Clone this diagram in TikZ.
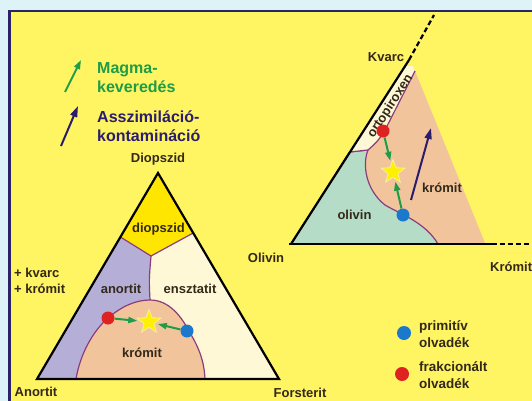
\documentclass[tikz,border=0pt]{standalone}
\usepackage{fontspec}
\setmainfont{Liberation Sans}
\usetikzlibrary{arrows.meta,shapes.geometric}
\definecolor{skyback}{HTML}{DDF3F8}
\definecolor{frameblue}{HTML}{2A2466}
\definecolor{paper}{HTML}{FFF462}
\definecolor{labeltext}{HTML}{33291A}
\definecolor{mixgreen}{HTML}{1E9C48}
\definecolor{contamblue}{HTML}{2B1D6E}
\definecolor{anorcol}{HTML}{B5AFD8}
\definecolor{enscol}{HTML}{FFF8D6}
\definecolor{diocol}{HTML}{FFE600}
\definecolor{kromcol}{HTML}{F2C49C}
\definecolor{olivcol}{HTML}{B5DCC6}
\definecolor{bordpurple}{HTML}{8A3D7C}
\definecolor{dotblue}{HTML}{1C78CC}
\definecolor{dotred}{HTML}{DE2222}
\definecolor{staryellow}{HTML}{FFF000}
\definecolor{starline}{HTML}{F4EFA8}
\tikzset{
  lbl/.style={font=\bfseries\fontsize{13}{16}\selectfont, text=labeltext, inner sep=0pt},
  key/.style={font=\bfseries\fontsize{16}{18.5}\selectfont, align=left, inner sep=0pt, anchor=west},
  dot/.style={circle, inner sep=0pt, minimum size=13pt},
  starnode/.style={star, star points=5, star point ratio=2.4, minimum size=25pt, inner sep=0pt, fill=staryellow, draw=starline, line width=0.8pt},
  mix/.style={draw=mixgreen, line width=2pt, -{Triangle[length=9pt,width=6pt]}},
  contam/.style={draw=contamblue, line width=2pt, -{Triangle[length=11pt,width=7pt]}},
  border/.style={draw=bordpurple, line width=1.2pt},
  edge/.style={draw=black, line width=2.2pt},
  ext/.style={draw=black, line width=2.2pt, dash pattern=on 5pt off 3pt}
}
\begin{document}
\begin{tikzpicture}[x=1pt,y=-1pt]
\useasboundingbox (0,0) rectangle (532,401);
\fill[skyback] (0,0) rectangle (532,401);
\filldraw[fill=paper, draw=frameblue, line width=2.6pt] (9.5,11) rectangle (545,415);

\coordinate (gA) at (65,92);
\coordinate (gB) at (81,60);
\coordinate (nA) at (61,146);
\coordinate (nB) at (78,106);
\draw[mix] (gA) -- (gB);
\draw[contam] (nA) -- (nB);
\node[key, text=mixgreen] (mixtext) at (97,77.5) {Magma-\\keveredés};
\node[key, text=contamblue] (contamtext) at (97,126) {Asszimiláció-\\kontamináció};

\fill[anorcol] (37,379) -- (158,173) -- (279,379) -- cycle;
\fill[enscol] (151,256) -- (193,233) -- (279,379) -- (150,379) -- (150,300) .. controls (149,280) .. (151,256) -- cycle;
\fill[diocol] (158,173) -- (193.2,233) -- (151,256) -- (120.4,237) -- cycle;
\filldraw[fill=kromcol, border] (76,379) .. controls (80,355) and (92,332) .. (108,318) .. controls (122,306) and (136,300) .. (150,300)
  .. controls (170,300) and (182,318) .. (189,331) .. controls (199,348) and (204,360) .. (205,379);
\draw[border] (120.4,237) -- (151,256) -- (193.2,233);
\draw[border] (151,256) .. controls (149,280) .. (150,300);
\draw[edge, line join=miter] (37,379) -- (158,173) -- (279,379) -- cycle;

\node[lbl] (dio) at (158,159) {Diopszid};
\node[lbl] (diof) at (158.5,229) {diopszid};
\node[lbl] (anf) at (121,289) {anortit};
\node[lbl] (ensf) at (190,289) {ensztatit};
\node[lbl] (krf) at (142,353) {krómit};
\node[lbl] (an) at (36,392) {Anortit};
\node[lbl] (fo) at (300,393) {Forsterit};
\node[lbl, anchor=west, align=left] (extra) at (14,281) {+ kvarc\\+ krómit};

\node[starnode] (s1) at (149,322) {};
\node[dot, fill=dotred] (r1) at (108,318) {};
\node[dot, fill=dotblue] (b1) at (187,331) {};
\draw[mix, shorten >=3pt] (r1) -- (s1);
\draw[mix, shorten >=3pt] (b1) -- (s1);

\fill[kromcol] (405,66) -- (413,66) -- (485,243) -- (291,244) -- cycle;
\filldraw[fill=olivcol, border] (291,244) -- (349.5,152) -- (368,150) .. controls (362,165) and (366,190) .. (385,205)
  .. controls (400,214) and (425,222) .. (438,244);
\fill[enscol] (349.5,152) -- (405,66) -- (413,66) -- (415,71) -- (384,132) .. controls (377,142) .. (368,150) -- cycle;
\draw[border] (415,71) -- (384,132) .. controls (377,142) .. (368,150) -- (349.5,152);
\draw[edge] (291,244) -- (409,60);
\draw[edge] (289,244) -- (492,244);
\draw[ext] (409,60) -- (434,15);
\draw[ext] (492,244) -- (540,244);

\node[lbl] (kv) at (386,57) {Kvarc};
\node[lbl] (ol) at (266,258) {Olivin};
\node[lbl, anchor=west] (kr) at (490,267) {Krómit};
\node[lbl] (olf) at (354.5,215) {olivin};
\node[lbl] (krf2) at (442,188) {krómit};
\node[lbl, rotate=57] (opx) at (390.5,106.5) {ortopiroxen};

\coordinate (cA) at (411,200);
\coordinate (cB) at (431,128);
\draw[contam] (cA) -- (cB);

\node[starnode] (s2) at (393,172) {};
\node[dot, fill=dotred] (r2) at (383,131) {};
\node[dot, fill=dotblue] (b2) at (403,215) {};
\draw[mix, shorten >=3pt] (r2) -- (s2);
\draw[mix, shorten >=3pt] (b2) -- (s2);

\node[dot, fill=dotblue, minimum size=14pt] (kb) at (404,333) {};
\node[dot, fill=dotred, minimum size=14pt] (kr2) at (402,374) {};
\node[lbl, anchor=west, align=left, font=\bfseries\fontsize{13.5}{17}\selectfont] (primtext) at (419,334.5) {primitív\\olvadék};
\node[lbl, anchor=west, align=left, font=\bfseries\fontsize{13.5}{17}\selectfont] (fraktext) at (419,375.5) {frakcionált\\olvadék};
\end{tikzpicture}
\end{document}
